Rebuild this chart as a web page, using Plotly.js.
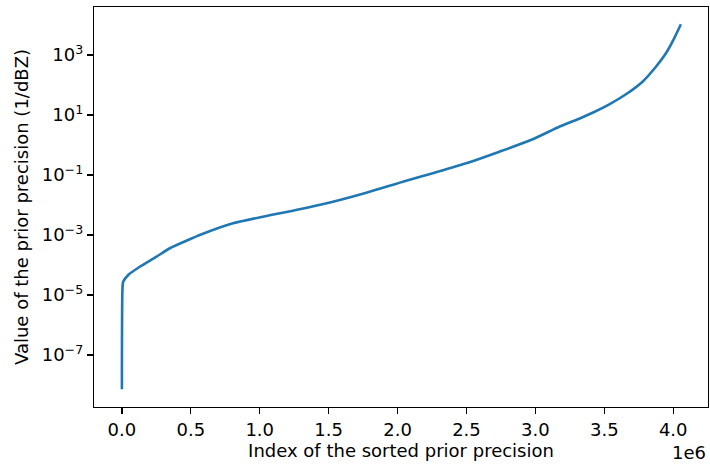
<!DOCTYPE html>
<html>
<head>
<meta charset="utf-8">
<script src="https://cdn.plot.ly/plotly-3.0.1.min.js"></script>
<style>html,body{margin:0;padding:0;background:#fff;}#chart{width:710px;height:464px;}</style>
</head>
<body>
<div id="chart"></div>
<script>
// Index of the sorted prior precision (raw index)
const sortedIndex = [0, 4000, 9400, 45700, 130400, 251400, 347800, 492800, 565200, 806500, 1048600, 1289900, 1531200, 1773200, 2063000, 2255800, 2497800, 2739100, 2980400, 3173900, 3294900, 3415200, 3536200, 3657200, 3777500, 3874600, 3947100, 4007200, 4055800];
// Value of the prior precision (1/dBZ)
const priorPrecision = [7.2e-9, 1.47e-5, 2.77e-5, 4.64e-5, 8.77e-5, 1.89e-4, 3.61e-4, 7.19e-4, 1.0e-3, 2.45e-3, 4.3e-3, 7.19e-3, 0.0129, 0.0257, 0.0646, 0.114, 0.245, 0.598, 1.55, 4.07, 6.81, 11.9, 22.7, 49.0, 129, 407, 1140, 3606, 10540];
const xTickVals = [0, 500000, 1000000, 1500000, 2000000, 2500000, 3000000, 3500000, 4000000];
const xTickText = ["0.0", "0.5", "1.0", "1.5", "2.0", "2.5", "3.0", "3.5", "4.0"];
const yTickVals = [1e-7, 1e-5, 1e-3, 1e-1, 1e1, 1e3];
const yTickText = ["10<sup>−7</sup>", "10<sup>−5</sup>", "10<sup>−3</sup>", "10<sup>−1</sup>", "10<sup>1</sup>", "10<sup>3</sup>"];

const font = {family: "DejaVu Sans", size: 18, color: "#000"};
const trace = {
  x: sortedIndex, y: priorPrecision, type: "scatter", mode: "lines",
  line: {color: "#1f77b4", width: 2.6, shape: "spline", smoothing: 0.7}, hoverinfo: "skip"
};
const layout = {
  width: 710, height: 464,
  margin: {l: 94, r: 2, t: 7, b: 57},
  paper_bgcolor: "#fff", plot_bgcolor: "#fff",
  font: font,
  showlegend: false,
  xaxis: {
    range: [-202500, 4252500], tickmode: "array", tickvals: xTickVals, ticktext: xTickText,
    ticks: "outside", ticklen: 6, tickwidth: 1.2, tickcolor: "#000",
    showline: true, linecolor: "#000", linewidth: 1.2, mirror: true,
    showgrid: false, zeroline: false, tickfont: font,
    title: {text: "Index of the sorted prior precision", font: font, standoff: 2}
  },
  yaxis: {
    type: "log", range: [-8.735, 4.6], tickmode: "array", tickvals: yTickVals, ticktext: yTickText,
    ticks: "outside", ticklen: 6, tickwidth: 1.2, tickcolor: "#000",
    showline: true, linecolor: "#000", linewidth: 1.2, mirror: true,
    showgrid: false, zeroline: false, tickfont: font,
    title: {text: "Value of the prior precision (1/dBZ)", font: font, standoff: 8}
  },
  annotations: [{
    text: "1e6", xref: "paper", yref: "paper", x: 1, y: 0, xanchor: "right", yanchor: "middle",
    yshift: -45, xshift: 0, showarrow: false, font: font
  }]
};
Plotly.newPlot("chart", [trace], layout, {staticPlot: true, displayModeBar: false});
</script>
</body>
</html>
